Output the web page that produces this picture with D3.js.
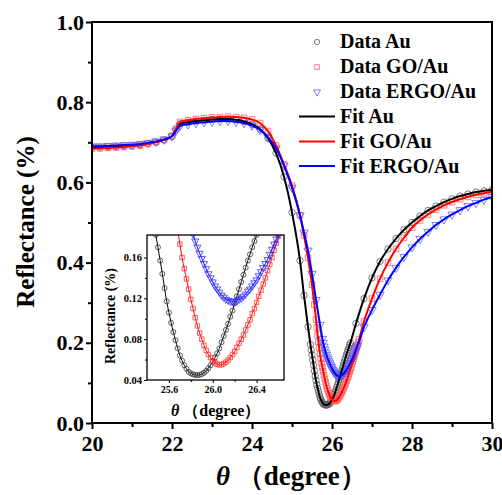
<!DOCTYPE html>
<html>
<head>
<meta charset="utf-8">
<script src="https://cdn.jsdelivr.net/npm/d3@7"></script>
<style>
  body { margin: 0; background: #fff; }
  svg { display: block; }
  text { font-family: "Liberation Serif", "Times New Roman", serif; font-weight: bold; fill: #000; }
</style>
</head>
<body>
<svg id="chart" width="502" height="495"></svg>
<script>
// SPR reflectance curves: Au, GO/Au, ERGO/Au (data + fit), with zoomed inset at the dip

// plateau and left wall, shared angles
const angleLeft = [20.0, 20.2, 20.4, 20.6, 20.8, 21.0, 21.2, 21.4, 21.6, 21.8, 22.0, 22.1, 22.2,
  22.4, 22.6, 22.8, 23.0, 23.2, 23.4, 23.6, 23.8, 24.0, 24.2, 24.4, 24.6, 24.8, 25.0, 25.2];
const auLeft = [0.688, 0.688, 0.689, 0.690, 0.691, 0.692, 0.694, 0.697, 0.701, 0.706, 0.715, 0.731, 0.746,
  0.750, 0.753, 0.755, 0.757, 0.758, 0.758, 0.756, 0.752, 0.745, 0.733, 0.710, 0.673, 0.614, 0.525, 0.405];
const goLeft = [0.684, 0.685, 0.686, 0.687, 0.688, 0.690, 0.692, 0.696, 0.700, 0.706, 0.716, 0.734, 0.751,
  0.755, 0.758, 0.760, 0.762, 0.763, 0.764, 0.763, 0.761, 0.757, 0.748, 0.728, 0.692, 0.645, 0.592, 0.518];
const ergoLeft = [0.690, 0.690, 0.691, 0.692, 0.693, 0.694, 0.696, 0.699, 0.702, 0.707, 0.715, 0.729, 0.741,
  0.745, 0.748, 0.750, 0.752, 0.753, 0.753, 0.751, 0.748, 0.742, 0.731, 0.713, 0.685, 0.642, 0.587, 0.518];

// dip region [angle, reflectance], finer steps near the minimum
const auDip = [[25.3, 0.318], [25.4, 0.240],
  [25.46, 0.196], [25.48, 0.182], [25.50, 0.170], [25.52, 0.157], [25.54, 0.144], [25.56, 0.130],
  [25.58, 0.117], [25.60, 0.106], [25.62, 0.096], [25.64, 0.087], [25.66, 0.079], [25.68, 0.071],
  [25.70, 0.064], [25.72, 0.059], [25.74, 0.0545], [25.76, 0.051], [25.78, 0.048], [25.80, 0.0465],
  [25.82, 0.0455], [25.84, 0.045], [25.86, 0.0448], [25.88, 0.045], [25.90, 0.0458], [25.92, 0.047],
  [25.94, 0.049], [25.96, 0.0515], [25.98, 0.0545], [26.00, 0.058], [26.02, 0.062], [26.04, 0.066],
  [26.06, 0.071], [26.08, 0.077], [26.10, 0.083], [26.12, 0.089], [26.14, 0.095], [26.16, 0.102],
  [26.18, 0.108], [26.20, 0.115], [26.22, 0.122], [26.24, 0.129], [26.26, 0.136], [26.28, 0.143],
  [26.30, 0.150], [26.32, 0.157], [26.34, 0.163], [26.36, 0.170], [26.38, 0.176], [26.40, 0.182],
  [26.42, 0.188], [26.44, 0.194], [26.46, 0.200], [26.6, 0.248]];
const goDip = [[25.3, 0.468], [25.4, 0.412], [25.5, 0.345], [25.56, 0.295], [25.6, 0.258],
  [25.62, 0.238], [25.64, 0.220], [25.66, 0.203], [25.68, 0.187], [25.70, 0.173], [25.72, 0.160],
  [25.74, 0.149], [25.76, 0.139], [25.78, 0.129], [25.80, 0.119], [25.82, 0.110], [25.84, 0.101],
  [25.86, 0.093], [25.88, 0.086], [25.90, 0.080], [25.92, 0.074], [25.94, 0.069], [25.96, 0.065],
  [25.98, 0.062], [26.00, 0.059], [26.02, 0.057], [26.04, 0.0555], [26.06, 0.0548], [26.08, 0.055],
  [26.10, 0.056], [26.12, 0.0575], [26.14, 0.0595], [26.16, 0.062], [26.18, 0.065], [26.20, 0.068],
  [26.22, 0.072], [26.24, 0.076], [26.26, 0.080], [26.28, 0.084], [26.30, 0.089], [26.32, 0.094],
  [26.34, 0.099], [26.36, 0.105], [26.38, 0.110], [26.40, 0.116], [26.42, 0.122], [26.44, 0.128],
  [26.46, 0.134], [26.48, 0.140], [26.50, 0.147], [26.52, 0.153], [26.54, 0.160], [26.56, 0.167],
  [26.58, 0.174], [26.60, 0.181], [26.62, 0.188], [26.64, 0.195], [26.66, 0.202], [26.68, 0.209]];
const ergoDip = [[25.3, 0.475], [25.4, 0.430], [25.5, 0.372], [25.6, 0.307], [25.7, 0.245],
  [25.76, 0.210], [25.78, 0.200], [25.80, 0.191], [25.82, 0.183], [25.84, 0.176], [25.86, 0.170],
  [25.88, 0.164], [25.90, 0.159], [25.92, 0.154], [25.94, 0.149], [25.96, 0.144], [25.98, 0.140],
  [26.00, 0.136], [26.02, 0.132], [26.04, 0.129], [26.06, 0.126], [26.08, 0.123], [26.10, 0.121],
  [26.12, 0.119], [26.14, 0.118], [26.16, 0.117], [26.18, 0.1165], [26.20, 0.117], [26.22, 0.1175],
  [26.24, 0.119], [26.26, 0.120], [26.28, 0.122], [26.30, 0.124], [26.32, 0.127], [26.34, 0.129],
  [26.36, 0.132], [26.38, 0.135], [26.40, 0.138], [26.42, 0.142], [26.44, 0.146], [26.46, 0.150],
  [26.48, 0.154], [26.50, 0.158], [26.52, 0.163], [26.54, 0.168], [26.56, 0.173], [26.58, 0.178],
  [26.60, 0.183], [26.62, 0.188], [26.64, 0.193]];

// right wing, shared angles
const angleRight = [26.8, 27.0, 27.2, 27.4, 27.6, 27.8, 28.0, 28.2, 28.4, 28.6, 28.8, 29.0, 29.2, 29.4, 29.6, 29.8, 30.0];
const auRight = [0.310, 0.362, 0.403, 0.434, 0.460, 0.482, 0.500, 0.516, 0.530, 0.541, 0.551, 0.559, 0.566, 0.571, 0.576, 0.579, 0.582];
const goRight = [0.253, 0.310, 0.360, 0.400, 0.434, 0.462, 0.487, 0.505, 0.520, 0.532, 0.543, 0.551, 0.558, 0.564, 0.569, 0.573, 0.577];
const ergoRight = [0.239, 0.282, 0.320, 0.356, 0.387, 0.414, 0.438, 0.459, 0.477, 0.494, 0.508, 0.520, 0.531, 0.541, 0.549, 0.557, 0.564];

const xTicks = [20, 22, 24, 26, 28, 30];
const yTicks = [0.0, 0.2, 0.4, 0.6, 0.8, 1.0];
const insetXTicks = [25.6, 26.0, 26.4];
const insetYTicks = [0.04, 0.08, 0.12, 0.16];

function joinSeries(left, dip, right) {
  return angleLeft.map((a, i) => [a, left[i]])
    .concat(dip)
    .concat(angleRight.map((a, i) => [a, right[i]]));
}

const series = [
  { name: "Au", pts: joinSeries(auLeft, auDip, auRight), line: "#000000", mark: "#5a5a5a", markIn: "#333333", shape: "circle" },
  { name: "GO/Au", pts: joinSeries(goLeft, goDip, goRight), line: "#ff0000", mark: "#ff5c5c", markIn: "#ff3030", shape: "square" },
  { name: "ERGO/Au", pts: joinSeries(ergoLeft, ergoDip, ergoRight), line: "#0000ff", mark: "#5c5cff", markIn: "#3030ff", shape: "triangle" }
];

const svg = d3.select("#chart");

const x = d3.scaleLinear().domain([20, 30]).range([92, 492]);
const y = d3.scaleLinear().domain([0, 1]).range([423, 22]);

function symbolPath(shape, size) {
  if (shape === "circle") return d3.symbol(d3.symbolCircle, size)();
  if (shape === "square") return d3.symbol(d3.symbolSquare, size)();
  return d3.symbol(d3.symbolTriangle, size)();
}

const defs = svg.append("defs");
defs.append("clipPath").attr("id", "clipMain")
  .append("rect").attr("x", 92).attr("y", 22).attr("width", 400).attr("height", 401);

// main markers
const mainG = svg.append("g").attr("clip-path", "url(#clipMain)");
series.forEach(s => {
  const p = symbolPath(s.shape, s.shape === "triangle" ? 30 : 32);
  mainG.append("g").selectAll("path")
    .data(s.pts)
    .join("path")
    .attr("d", p)
    .attr("transform", d => `translate(${x(d[0])},${y(d[1])})` + (s.shape === "triangle" ? " rotate(180)" : ""))
    .attr("fill", "none")
    .attr("stroke", s.mark)
    .attr("stroke-width", 0.8);
});

// main fit lines
const line = d3.line().x(d => x(d[0])).y(d => y(d[1])).curve(d3.curveMonotoneX);
series.forEach(s => {
  mainG.append("path")
    .datum(s.pts)
    .attr("d", line)
    .attr("fill", "none")
    .attr("stroke", s.line)
    .attr("stroke-width", 2);
});

// axes
const xAxis = svg.append("g").attr("transform", "translate(0,423)")
  .call(d3.axisBottom(x).tickValues(xTicks).tickFormat(d3.format("d")).tickSize(6).tickPadding(6));
svg.append("g").attr("transform", "translate(0,423)")
  .call(d3.axisBottom(x).tickValues([21, 23, 25, 27, 29]).tickFormat("").tickSize(4));
const yAxis = svg.append("g").attr("transform", "translate(92,0)")
  .call(d3.axisLeft(y).tickValues(yTicks).tickFormat(d3.format(".1f")).tickSize(6).tickPadding(2));
svg.append("g").attr("transform", "translate(92,0)")
  .call(d3.axisLeft(y).tickValues([0.1, 0.3, 0.5, 0.7, 0.9]).tickFormat("").tickSize(4));

svg.selectAll(".domain").remove();
svg.selectAll(".tick line").attr("stroke", "#000").attr("stroke-width", 2);
xAxis.selectAll("text").style("font-size", "22px");
yAxis.selectAll("text").style("font-size", "22px");

svg.append("rect")
  .attr("x", 92).attr("y", 22).attr("width", 400).attr("height", 401)
  .attr("fill", "none").attr("stroke", "#000").attr("stroke-width", 2);

// axis titles
svg.append("text")
  .attr("transform", "translate(34,222) rotate(-90)")
  .attr("text-anchor", "middle")
  .style("font-size", "25px")
  .text("Reflectance (%)");

const xTitle = svg.append("text")
  .attr("x", 216).attr("y", 485)
  .style("font-size", "27px");
xTitle.append("tspan").style("font-style", "italic").text("θ");
xTitle.append("tspan").text(" （degree）");

// legend
const legend = svg.append("g");
const rowY = [48, 73, 98, 123, 148, 172.5];
series.forEach((s, i) => {
  legend.append("path")
    .attr("d", symbolPath(s.shape, 22))
    .attr("transform", `translate(317,${rowY[i] - 6})` + (s.shape === "triangle" ? " rotate(180)" : ""))
    .attr("fill", "none").attr("stroke", s.mark).attr("stroke-width", 0.8);
  legend.append("text").attr("x", 340).attr("y", rowY[i]).style("font-size", "20px").text("Data " + s.name);
});
series.forEach((s, i) => {
  const ry = rowY[i + 3];
  legend.append("line")
    .attr("x1", 299).attr("x2", 335).attr("y1", ry - 6.5).attr("y2", ry - 6.5)
    .attr("stroke", s.line).attr("stroke-width", 2);
  legend.append("text").attr("x", 340).attr("y", ry).style("font-size", "20px").text("Fit " + s.name);
});

// inset
const xi = d3.scaleLinear().domain([25.4, 26.65]).range([147, 284]);
const yi = d3.scaleLinear().domain([0.04, 0.182]).range([380, 235]);

defs.append("clipPath").attr("id", "clipInset")
  .append("rect").attr("x", 147).attr("y", 235).attr("width", 137).attr("height", 145);

svg.append("rect")
  .attr("x", 147).attr("y", 235).attr("width", 137).attr("height", 145)
  .attr("fill", "#fff");

const insetG = svg.append("g").attr("clip-path", "url(#clipInset)");
const lineIn = d3.line().x(d => xi(d[0])).y(d => yi(d[1])).curve(d3.curveMonotoneX);
series.forEach(s => {
  const pts = s.pts.filter(d => d[0] >= 25.3 && d[0] <= 26.8);
  insetG.append("path").datum(pts)
    .attr("d", lineIn).attr("fill", "none")
    .attr("stroke", s.line).attr("stroke-width", 1);
  const p = symbolPath(s.shape, s.shape === "triangle" ? 22 : 20);
  insetG.append("g").selectAll("path")
    .data(pts.filter(d => d[0] >= 25.44))
    .join("path")
    .attr("d", p)
    .attr("transform", d => `translate(${xi(d[0])},${yi(d[1])})` + (s.shape === "triangle" ? " rotate(180)" : ""))
    .attr("fill", "none")
    .attr("stroke", s.markIn)
    .attr("stroke-width", 0.8);
});

const ixAxis = svg.append("g").attr("transform", "translate(0,380)")
  .call(d3.axisBottom(xi).tickValues(insetXTicks).tickFormat(d3.format(".1f")).tickSize(3).tickPadding(3));
svg.append("g").attr("transform", "translate(0,380)")
  .call(d3.axisBottom(xi).tickValues([25.8, 26.2]).tickFormat("").tickSize(2));
const iyAxis = svg.append("g").attr("transform", "translate(147,0)")
  .call(d3.axisLeft(yi).tickValues(insetYTicks).tickFormat(d3.format(".2f")).tickSize(3).tickPadding(2));
svg.append("g").attr("transform", "translate(147,0)")
  .call(d3.axisLeft(yi).tickValues([0.06, 0.10, 0.14]).tickFormat("").tickSize(2));

svg.selectAll(".domain").remove();
svg.selectAll(".tick line").attr("stroke", "#000");
ixAxis.selectAll("text").style("font-size", "10px");
iyAxis.selectAll("text").style("font-size", "10.5px");

svg.append("rect")
  .attr("x", 147).attr("y", 235).attr("width", 137).attr("height", 145)
  .attr("fill", "none").attr("stroke", "#000").attr("stroke-width", 1.3);

svg.append("text")
  .attr("transform", "translate(115,316) rotate(-90)")
  .attr("text-anchor", "middle")
  .style("font-size", "14px")
  .text("Reflectance (%)");

const ixTitle = svg.append("text")
  .attr("x", 171).attr("y", 416)
  .style("font-size", "16px");
ixTitle.append("tspan").style("font-style", "italic").text("θ");
ixTitle.append("tspan").text(" （degree）");
</script>
</body>
</html>
